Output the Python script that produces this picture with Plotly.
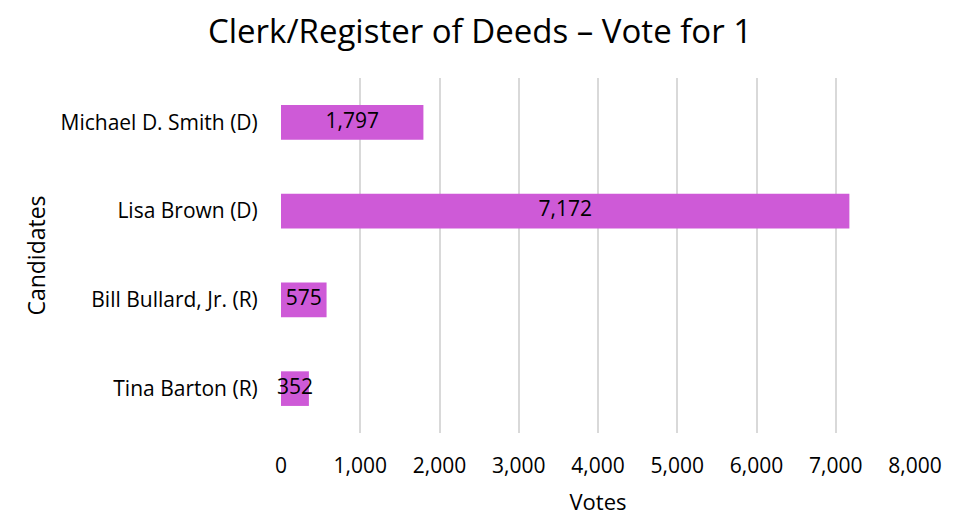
import plotly.graph_objects as go

candidates = ["Michael D. Smith (D)", "Lisa Brown (D)", "Bill Bullard, Jr. (R)", "Tina Barton (R)"]
votes = [1797, 7172, 575, 352]
tick_vals = [0, 1000, 2000, 3000, 4000, 5000, 6000, 7000, 8000]

font = "'Open Sans', sans-serif"
color = "#CE5AD7"

fig = go.Figure()
fig.add_trace(go.Bar(
    y=candidates, x=votes, orientation="h",
    marker=dict(color=color, line=dict(width=0)),
    width=0.39, hoverinfo="x+y",
))
fig.add_trace(go.Scatter(
    y=candidates, x=[v / 2 for v in votes], mode="text",
    text=[f"{v:,}" for v in votes],
    textfont=dict(family=font, size=21, color="#000000"),
    hoverinfo="skip", showlegend=False, cliponaxis=False,
))
fig.update_layout(
    width=961, height=516,
    margin=dict(l=273, r=54, t=70, b=91, autoexpand=False),
    paper_bgcolor="white", plot_bgcolor="white",
    showlegend=False,
    title=dict(text="Clerk/Register of Deeds – Vote for 1", x=0.4912,
               xanchor="center", y=0.955, yanchor="middle",
               font=dict(family=font, size=33, color="#000000")),
    font=dict(family=font, size=21, color="#000000"),
    xaxis=dict(range=[0, 8000], tickvals=tick_vals, tickformat=",d",
               showgrid=True, gridcolor="#D9D9D9", gridwidth=2,
               zeroline=False, showline=False, automargin=False,
               title=dict(text="Votes", font=dict(size=22), standoff=16),
               tickfont=dict(size=21), ticks="outside", ticklen=14, tickcolor="white"),
    yaxis=dict(categoryorder="array", categoryarray=candidates[::-1],
               autorange=True, showgrid=False, zeroline=False, showline=False,
               automargin=False,
               title=dict(text="Candidates", font=dict(size=23), standoff=8),
               tickfont=dict(size=21), ticks="outside", ticklen=18, tickcolor="white"),
    bargap=0.61,
)
fig.write_html("out.html")
